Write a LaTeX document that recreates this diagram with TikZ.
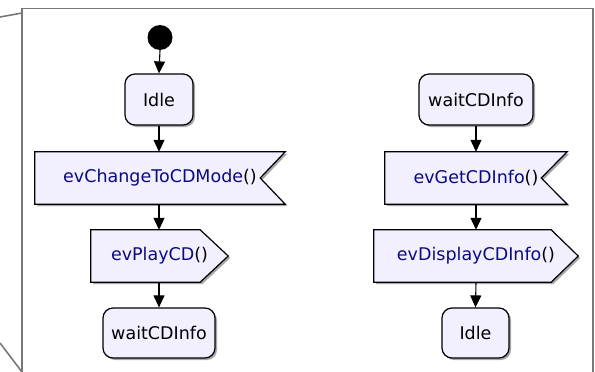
\documentclass[tikz,border=0pt]{standalone}
\usepackage{fontspec}
\setmainfont{DejaVu Sans}
\usetikzlibrary{arrows.meta,calc,shadows,backgrounds}
\definecolor{fillc}{RGB}{242,240,255}
\definecolor{navyc}{RGB}{10,10,130}
\definecolor{framec}{RGB}{120,120,120}
\tikzset{
  lbl/.style={inner sep=0pt, font=\fontsize{17.5}{20}\selectfont},
  shad/.style={drop shadow={shadow xshift=2pt, shadow yshift=-2pt, fill=black!35, opacity=1}},
  state/.style={lbl, draw=black, line width=1.2pt, fill=fillc, rounded corners=10pt, shad},
  outline/.style={draw=black, line width=1.2pt, fill=fillc, shad},
  flow/.style={line width=1.1pt, -{Triangle[length=12pt,width=11pt]}},
  framel/.style={draw=framec, line width=1.6pt}
}
\begin{document}
\begin{tikzpicture}[x=1pt,y=-1pt]
\useasboundingbox (0,0) rectangle (595,372);
% frame
\draw[framel] (22,378) -- (22,8.5) -- (593,8.5) -- (593,378);
\draw[framel] (0,17) -- (22,13);
\draw[framel] (0,343) -- (22,372);
% left column
\node[circle, fill=black, inner sep=0pt, minimum size=25pt] (init) at (160,37.5) {};
\node[state, minimum width=68pt, minimum height=51pt] (idle1) at (159,99.5) {Idle};
\node[lbl, minimum width=250pt, minimum height=52pt] (ecm) at (160,178) {{\color{navyc}evChangeToCDMode}()};
\node[lbl, minimum width=137pt, minimum height=52pt] (play) at (159.5,256) {{\color{navyc}evPlayCD}()};
\node[state, minimum width=112pt, minimum height=50pt] (wait1) at (159,333) {waitCDInfo};
% right column
\node[state, minimum width=114pt, minimum height=51pt] (wait2) at (476,99.5) {waitCDInfo};
\node[lbl, minimum width=182pt, minimum height=52pt] (gcd) at (476,178) {{\color{navyc}evGetCDInfo}()};
\node[lbl, minimum width=204pt, minimum height=52pt] (dcd) at (476,256) {{\color{navyc}evDisplayCDInfo}()};
\node[state, minimum width=67pt, minimum height=50pt] (idle2) at (475.5,333) {Idle};
\begin{scope}[on background layer]
\path[outline] (ecm.north west) -- (ecm.north east) -- ($(ecm.east)+(-25,0)$) -- (ecm.south east) -- (ecm.south west) -- cycle;
\path[outline] (play.north west) -- ($(play.north east)+(-28,0)$) -- (play.east) -- ($(play.south east)+(-28,0)$) -- (play.south west) -- cycle;
\path[outline] (gcd.north west) -- (gcd.north east) -- ($(gcd.east)+(-26,0)$) -- (gcd.south east) -- (gcd.south west) -- cycle;
\path[outline] (dcd.north west) -- ($(dcd.north east)+(-27,0)$) -- (dcd.east) -- ($(dcd.south east)+(-27,0)$) -- (dcd.south west) -- cycle;
\end{scope}
% connectors
\draw[flow] (init.south) -- (idle1.north);
\draw[flow] (idle1.south) -- (idle1.south |- ecm.north);
\draw[flow] (idle1.south |- ecm.south) -- (idle1.south |- play.north);
\draw[flow] (idle1.south |- play.south) -- (idle1.south |- wait1.north);
\draw[flow] (wait2.south) -- (gcd.north);
\draw[flow] (gcd.south) -- (dcd.north);
\draw[flow] (dcd.south) -- (idle2.north);
\end{tikzpicture}
\end{document}
